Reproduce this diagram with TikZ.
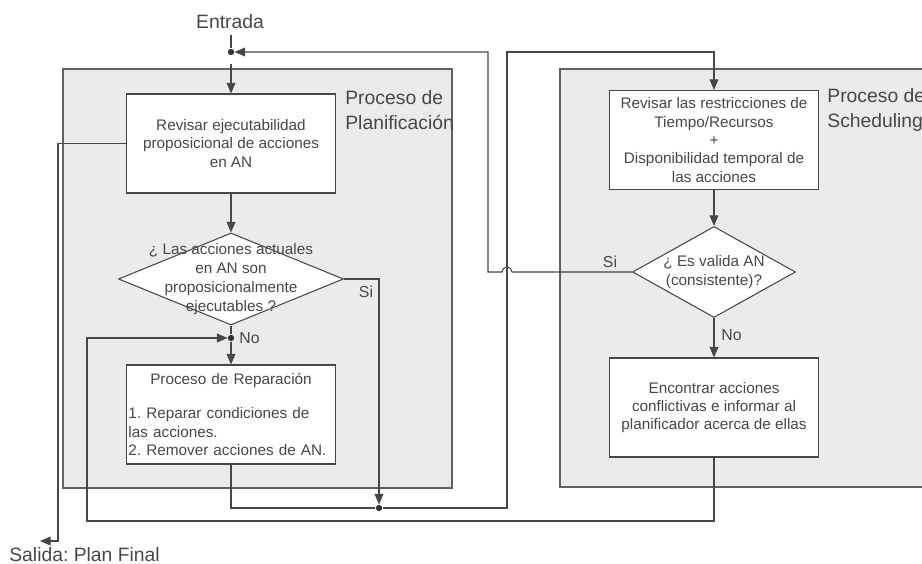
\documentclass[tikz,border=0pt]{standalone}
\usepackage{fontspec}
\setmainfont{Liberation Sans}
\usetikzlibrary{shapes.geometric, arrows.meta, calc}
\frenchspacing
\colorlet{PanelFill}{black!8}
\colorlet{LineColor}{black!72}
\colorlet{TextColor}{black!72}
\tikzset{
    box/.style={
        draw=LineColor, fill=white, line width=0.6pt,
        minimum width=4.18cm, minimum height=1.98cm,
        align=center, inner sep=1pt,
        font=\fontsize{8.7}{10.4}\selectfont
    },
    decision/.style={draw=LineColor, fill=white, line width=0.6pt, diamond, inner sep=0pt},
    decision text/.style={align=center, inner sep=0pt, font=\fontsize{8.7}{10.8}\selectfont},
    panel/.style={draw=black!62, fill=PanelFill, line width=0.9pt},
    junction/.style={circle, fill=black!80, inner sep=0pt, minimum size=3.6pt},
    flow/.style={draw=LineColor, line width=0.6pt, -{Triangle[length=6pt, width=5pt]}},
    link/.style={draw=LineColor, line width=0.6pt},
    branch label/.style={font=\fontsize{9}{10}\selectfont, inner sep=0pt},
    title label/.style={font=\fontsize{11}{14}\selectfont, align=left, anchor=west, inner sep=0pt}
}

\begin{document}
\begin{tikzpicture}[x=0.2mm, y=-0.2mm, every node/.append style={text=TextColor}]

\useasboundingbox (0,0) rectangle (922,564);

% Paneles de fondo
\draw[panel] (63,69) rectangle (452,488);
\draw[panel] (560,69) rectangle (940,487);
\node[title label] (planLabel) at (345,110) {Proceso de\\Planificación};
\node[title label] (schedLabel) at (827,110) {Proceso de\\Scheduling};

% Planificación
\node[font=\fontsize{11}{13}\selectfont] (entrada) at (230,22) {Entrada};
\node[junction] (jIn) at (231,52) {};
\node[box] (revisarAN) at (231,143.5) {Revisar ejecutabilidad\\proposicional de acciones\\en AN};
\node[decision, minimum width=4.5cm, minimum height=1.84cm] (qProp) at (231,279) {};
\node[decision text] (qPropText) at (qProp) {¿ Las acciones actuales\\en AN son\\proposicionalmente\\ejecutables ?};
\node[junction] (jNo) at (231,338) {};
\node[box, text width=4.1cm, align=left] (reparar) at (231,414.5)
    {\hfill Proceso de Reparación\hfill\mbox{}\\[9pt]1. Reparar condiciones de\\las acciones.\\2. Remover acciones de AN.};
\node[junction] (jOut) at (379,508) {};

% Scheduling
\node[box] (revisarTR) at (714,140) {Revisar las restricciones de\\Tiempo/Recursos\\+\\Disponibilidad temporal de\\las acciones};
\node[decision, minimum width=3.26cm, minimum height=1.82cm] (qValid) at (714,272) {};
\node[decision text] (qValidText) at (qValid) {¿ Es valida AN\\(consistente)?};
\node[box] (encontrar) at (714,407.5) {Encontrar acciones\\conflictivas e informar al\\planificador acerca de ellas};

% Puntos de paso de las conexiones
\coordinate (busUp) at (507,52);
\coordinate (hop) at (507,272);
\coordinate (retLeft) at (488,272);
\coordinate (loopLow) at (87,521);
\coordinate (salidaBend) at (58,541);
\coordinate (salida) at (40,541);
\node[font=\fontsize{11}{13}\selectfont, anchor=west, inner sep=0pt] (salidaText) at (9,555) {Salida: Plan Final};

% Conexiones
\draw[flow, shorten <=5pt] (jIn |- entrada.south) -- (jIn) -- (revisarAN);
\draw[flow] (revisarAN) -- (qProp);
\draw[link] (qProp) -- (jNo);
\draw[flow] (jNo) -- (reparar);
\node[branch label, anchor=west] (noLeft) at (239,338) {No};
\draw[flow] (qProp.east) -| (jOut);
\node[branch label] (siLeft) at (366,292) {Si};
\draw[link] (reparar.south) |- (jOut);
\draw[flow] (jOut) -| (busUp) -| (revisarTR.north);
\draw[flow] (revisarTR) -- (qValid);
\draw[flow] (qValid) -- (encontrar);
\node[branch label, anchor=west] (noRight) at (721,335) {No};
\draw[flow] (qValid.west) -- ($(hop)+(1mm,0)$) arc[start angle=0, end angle=180, radius=1mm]
    -- (retLeft) |- (jIn);
\node[branch label] (siRight) at (610,262) {Si};
\draw[flow] (encontrar.south) |- (loopLow) |- (jNo);
\draw[flow] (revisarAN.west) -| (salidaBend) -- (salida);

\end{tikzpicture}
\end{document}
